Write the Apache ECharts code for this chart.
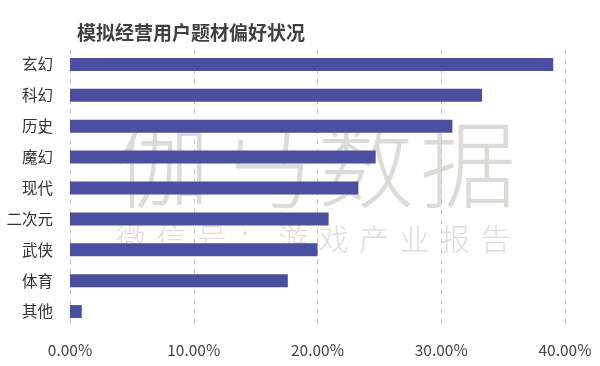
<!DOCTYPE html>
<html><head><meta charset="utf-8">
<script src="https://cdn.jsdelivr.net/npm/echarts@6/dist/echarts.min.js"></script>
<style>html,body{margin:0;padding:0;background:#fff}#c{width:600px;height:366px}</style>
</head><body><div id="c"></div>
<script>
const titleText = '模拟经营用户题材偏好状况';
const categories = ['玄幻','科幻','历史','魔幻','现代','二次元','武侠','体育','其他'];
const values = [39.05, 33.3, 30.9, 24.7, 23.3, 20.9, 20.0, 17.6, 0.95];
const xTicks = [0, 10, 20, 30, 40];
const watermark1 = '伽马数据';
const watermark2 = '微信号：游戏产业报告';

const font = '"Noto Sans CJK SC", "Noto Sans", sans-serif';
const graphics = [];
Array.from(watermark1).forEach((ch, i) => {
  graphics.push({type: 'text', left: 114 + i * 102, top: 116, z: -1, silent: true,
    style: {text: ch, font: '300 96px ' + font, fill: '#dddbd7'}});
});
Array.from(watermark2).forEach((ch, i) => {
  graphics.push({type: 'text', left: 116 + i * 40.5, top: 224, z: -1, silent: true,
    style: {text: ch, font: '300 30px ' + font, fill: '#dfddd9'}});
});

const chart = echarts.init(document.getElementById('c'));
chart.setOption({
  animation: false,
  title: {
    text: titleText, left: 72, top: 18,
    textStyle: {fontFamily: font, fontSize: 19, fontWeight: 'bold', color: '#404040'}
  },
  graphic: graphics,
  grid: {left: 70, right: 35, top: 49, bottom: 39, containLabel: false},
  xAxis: {
    type: 'value', min: xTicks[0], max: xTicks[xTicks.length - 1], interval: 10,
    axisLine: {show: false}, axisTick: {show: false},
    splitLine: {show: true, lineStyle: {type: [5, 5], color: '#c8c8c8', width: 1}},
    axisLabel: {formatter: v => v.toFixed(2) + '%', fontFamily: font, fontSize: 15.5, color: '#444', margin: 15}
  },
  yAxis: {
    type: 'category', data: categories, inverse: true,
    axisLine: {show: false}, axisTick: {show: false},
    axisLabel: {fontFamily: font, fontSize: 15.5, color: '#333', margin: 17}
  },
  series: [{
    type: 'bar', data: values, barWidth: 13,
    itemStyle: {color: '#4a4f9f'}
  }]
});
</script></body></html>
